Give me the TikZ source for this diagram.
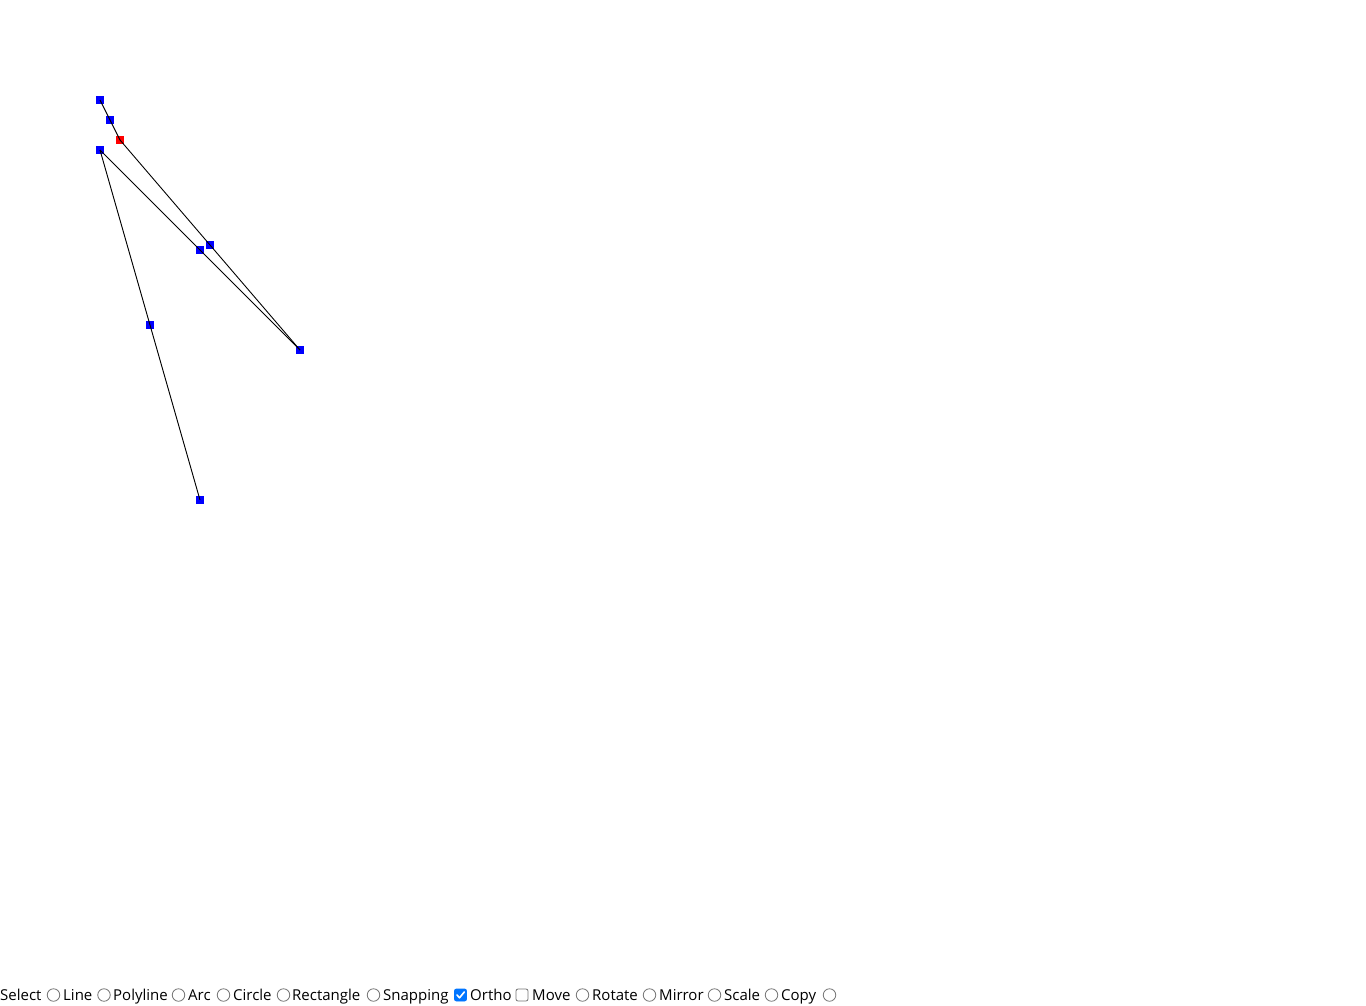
\documentclass[tikz,border=0pt]{standalone}
\usepackage{fontspec}
\setmainfont{Open Sans}
\definecolor{ptblue}{RGB}{0,0,255}
\definecolor{ptred}{RGB}{255,0,0}
\definecolor{ctlgray}{RGB}{118,118,118}
\definecolor{ctlblue}{RGB}{0,117,255}
\begin{document}
\begin{tikzpicture}[x=1pt,y=-1pt,
  handle/.style={rectangle,draw=none,fill=ptblue,minimum size=8pt,inner sep=0pt},
  redhandle/.style={handle,fill=ptred},
  seg/.style={draw=black,line width=0.9pt},
  lbl/.style={anchor=base west,inner sep=0pt,font=\fontsize{15}{18}\selectfont,text=black},
  radio/.style={circle,draw=ctlgray,fill=white,line width=0.8pt,minimum size=12.5pt,inner sep=0pt},
  cbox/.style={rectangle,rounded corners=2pt,draw=ctlgray,fill=white,line width=0.8pt,minimum size=12pt,inner sep=0pt},
  cboxon/.style={cbox,draw=ctlblue,fill=ctlblue}]
\useasboundingbox (0,0) rectangle (1366,1005);
\fill[white] (0,0) rectangle (1366,1005);
% handles
\node[handle] (a1) at (100,100) {};
\node[handle] (a2) at (110,120) {};
\node[redhandle] (a3) at (120,140) {};
\node[handle] (b2) at (210,245) {};
\node[handle] (b3) at (300,350) {};
\node[handle] (c1) at (100,150) {};
\node[handle] (c2) at (200,250) {};
\node[handle] (d2) at (150,325) {};
\node[handle] (d3) at (200,500) {};
% segments
\draw[seg] (a1.center) -- (a3.center);
\draw[seg] (a3.center) -- (b3.center);
\draw[seg] (c1.center) -- (b3.center);
\draw[seg] (c1.center) -- (d3.center);
% toolbar
\node[lbl] (tSelect) at (0,1000) {Select};
\node[radio] (rSelect) at (53.5,995) {};
\node[lbl] (tLine) at (63,1000) {Line};
\node[radio] (rLine) at (104,995) {};
\node[lbl] (tPoly) at (113,1000) {Polyline};
\node[radio] (rPoly) at (178.5,995) {};
\node[lbl] (tArc) at (188,1000) {Arc};
\node[radio] (rArc) at (223.5,995) {};
\node[lbl] (tCircle) at (233,1000) {Circle};
\node[radio] (rCircle) at (283.5,995) {};
\node[lbl] (tRect) at (292,1000) {Rectangle};
\node[radio] (rRect) at (373.5,995) {};
\node[lbl] (tSnap) at (383,1000) {Snapping};
\node[cboxon] (cSnap) at (460.5,995) {};
\draw[white,line width=1.6pt,line cap=round,line join=round] ([shift={(-3.5,0)}]cSnap.center) -- ([shift={(-1,2.8)}]cSnap.center) -- ([shift={(3.8,-3)}]cSnap.center);
\node[lbl] (tOrtho) at (470,1000) {Ortho};
\node[cbox] (cOrtho) at (522,995) {};
\node[lbl] (tMove) at (532,1000) {Move};
\node[radio] (rMove) at (582.5,995) {};
\node[lbl] (tRotate) at (592,1000) {Rotate};
\node[radio] (rRotate) at (649.5,995) {};
\node[lbl] (tMirror) at (659,1000) {Mirror};
\node[radio] (rMirror) at (714.5,995) {};
\node[lbl] (tScale) at (724,1000) {Scale};
\node[radio] (rScale) at (771.5,995) {};
\node[lbl] (tCopy) at (781,1000) {Copy};
\node[radio] (rCopy) at (829.5,995) {};
\end{tikzpicture}
\end{document}
